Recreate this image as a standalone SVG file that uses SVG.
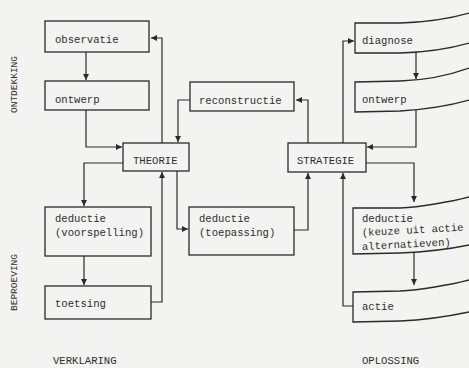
<svg xmlns="http://www.w3.org/2000/svg" width="469" height="368" viewBox="0 0 469 368">
<defs>
<marker id="ah" markerUnits="userSpaceOnUse" markerWidth="8" markerHeight="8" refX="6" refY="3" orient="auto">
<path d="M0,0 L6,3 L0,6 z" fill="#2a2a2a"/>
</marker>
<style>
.box{fill:none;stroke:#2a2a2a;stroke-width:1.3}
.c{fill:none;stroke:#2a2a2a;stroke-width:1.2;marker-end:url(#ah)}
text{font-family:"Liberation Mono","DejaVu Sans Mono",monospace;font-size:10.6px;fill:#2e2e2e}
.lbl{font-size:9.5px}
</style>
</defs>
<rect width="469" height="368" fill="#f3f3f1"/>

<g id="observatie"><rect class="box" x="45" y="21" width="104" height="31"/><text x="55" y="43">observatie</text></g>
<g id="ontwerp-l"><rect class="box" x="45" y="81" width="104" height="29"/><text x="55" y="103">ontwerp</text></g>
<g id="theorie"><rect class="box" x="123" y="143" width="66" height="28"/><text x="133" y="164">THEORIE</text></g>
<g id="reconstructie"><rect class="box" x="190" y="82" width="104" height="29"/><text x="199" y="104">reconstructie</text></g>
<g id="deductie-v"><rect class="box" x="45" y="207" width="106" height="49"/><text x="55" y="222">deductie</text><text x="55" y="236">(voorspelling)</text></g>
<g id="toetsing"><rect class="box" x="45" y="286" width="106" height="33"/><text x="55" y="307">toetsing</text></g>
<g id="deductie-t"><rect class="box" x="189" y="207" width="105" height="48"/><text x="199" y="222">deductie</text><text x="199" y="236">(toepassing)</text></g>
<g id="strategie"><rect class="box" x="288" y="143" width="78" height="29"/><text x="297" y="164">STRATEGIE</text></g>
<g id="diagnose"><path class="box" d="M469,13 C455,17 430,22 400,23 L355,23 L355,53 L400,53 C430,52 455,47 469,43"/><text x="362" y="44">diagnose</text></g>
<g id="ontwerp-r"><path class="box" d="M469,68 C455,73 430,80 400,81 L355,82 L355,112 L400,111 C430,109 455,104 469,100"/><text x="362" y="103">ontwerp</text></g>
<g id="deductie-k"><path class="box" d="M469,197 C450,202 420,207 400,208 L353,208 L353,254 L400,253 C425,252 450,249 469,245"/><text x="362" y="222">deductie</text><text x="362" y="236" transform="rotate(-3 362 236)">(keuze uit actie</text><text x="362" y="250" transform="rotate(-3 362 250)">alternatieven)</text></g>
<g id="actie"><path class="box" d="M469,280 C450,285 420,290 400,291 L353,292 L353,322 L400,321 C425,320 450,316 469,312"/><text x="362" y="310">actie</text></g>

<g id="connectors">
<path class="c" d="M86,52 V80"/>
<path class="c" d="M86,110 V147 H122"/>
<path class="c" d="M162,143 V38 H151"/>
<path class="c" d="M190,100 H178 V142"/>
<path class="c" d="M123,163 H84 V206"/>
<path class="c" d="M84,256 V285"/>
<path class="c" d="M151,302 H162 V172"/>
<path class="c" d="M177,171 V229 H188"/>
<path class="c" d="M294,230 H308 V173"/>
<path class="c" d="M308,143 V100 H296"/>
<path class="c" d="M343,143 V41 H354"/>
<path class="c" d="M416,52 V79"/>
<path class="c" d="M416,110 V147 H367"/>
<path class="c" d="M366,163 H414 V202"/>
<path class="c" d="M414,253 V285"/>
<path class="c" d="M353,306 H343 V173"/>
</g>

<g id="labels">
<text class="lbl" transform="translate(17 113) rotate(-90)">ONTDEKKING</text>
<text class="lbl" transform="translate(17 311) rotate(-90)">BEPROEVING</text>
<text x="53" y="364" font-size="10">VERKLARING</text>
<text x="362" y="364" font-size="10">OPLOSSING</text>
</g>
</svg>
